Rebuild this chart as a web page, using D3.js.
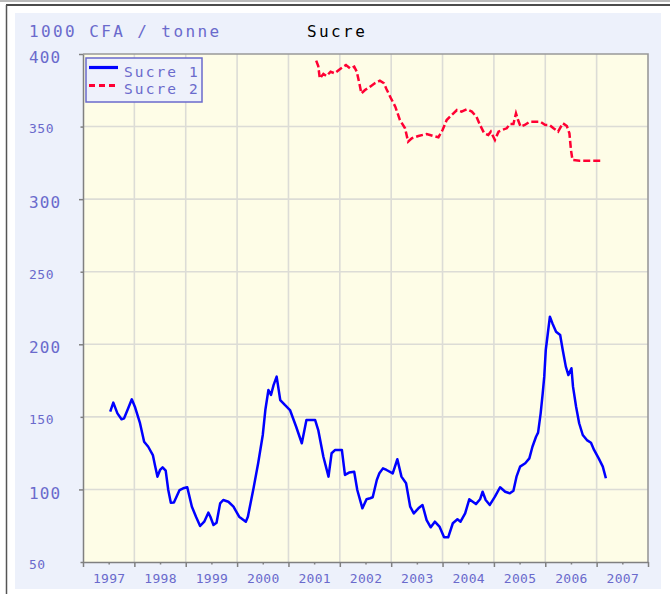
<!DOCTYPE html>
<html>
<head>
<meta charset="utf-8">
<script src="https://cdn.jsdelivr.net/npm/d3@7"></script>
<style>
  body { margin: 0; background: #fff; }
  text { font-family: "DejaVu Sans Mono", monospace; }
</style>
</head>
<body>
<svg id="chart"></svg>
<script>
const WIDTH = 670;
const HEIGHT = 594;
const LABELCOLOR = "#6a6acc";
const GRIDCOLOR = "#dcdcd6";
const AXISCOLOR = "#808080";
const PLOT = { left: 83, top: 54, right: 648, bottom: 562 };

/* axis values */
const yearTicks = d3.range(1997, 2009);
const yearLabels = d3.range(1997, 2008);
const valueTicks = [50, 100, 150, 200, 250, 300, 350, 400];
const majorValues = [100, 200, 300, 400];
const seriesNames = ["Sucre 1", "Sucre 2"];

/* Sucre 1 (decimal years) */
const sucre1Years = [
  1997.53, 1997.59, 1997.67, 1997.75, 1997.8, 1997.88, 1997.95, 1998.01, 1998.11, 1998.19,
  1998.27, 1998.36, 1998.4, 1998.45, 1998.5, 1998.55, 1998.61, 1998.66, 1998.71, 1998.77,
  1998.88, 1998.95, 1999.03, 1999.12, 1999.2, 1999.28, 1999.36, 1999.44, 1999.48, 1999.54,
  1999.6, 1999.67, 1999.73, 1999.83, 1999.93, 2000.04, 2000.17, 2000.21, 2000.32, 2000.41,
  2000.5, 2000.55, 2000.61, 2000.66, 2000.71, 2000.77, 2000.84, 2000.93, 2001.03, 2001.15,
  2001.26, 2001.35, 2001.52, 2001.58, 2001.68, 2001.78, 2001.84, 2001.91, 2002.04, 2002.1,
  2002.18, 2002.28, 2002.34, 2002.44, 2002.52, 2002.59, 2002.64, 2002.72, 2002.77, 2002.84,
  2002.91, 2003.03, 2003.12, 2003.2, 2003.29, 2003.37, 2003.44, 2003.53, 2003.61, 2003.69,
  2003.77, 2003.85, 2003.94, 2004.03, 2004.11, 2004.2, 2004.29, 2004.35, 2004.44, 2004.52,
  2004.65, 2004.73, 2004.78, 2004.84, 2004.92, 2005.02, 2005.12, 2005.22, 2005.31, 2005.38,
  2005.44, 2005.51, 2005.61, 2005.69, 2005.75, 2005.82, 2005.86, 2005.91, 2005.95, 2005.98,
  2006.01, 2006.05, 2006.09, 2006.14, 2006.21, 2006.29, 2006.34, 2006.4, 2006.45, 2006.51,
  2006.54, 2006.6, 2006.66, 2006.73, 2006.81, 2006.89, 2006.95, 2007.04, 2007.12, 2007.18
];
const sucre1Values = [
  153.6, 159.8, 152.4, 148.3, 149.0, 155.9, 162.1, 157.0, 145.6, 132.9,
  129.4, 123.7, 116.8, 108.8, 113.4, 115.2, 112.9, 99.6, 90.9, 91.0,
  99.6, 100.8, 101.5, 88.1, 81.2, 74.8, 77.8, 84.0, 81.2, 75.5,
  77.1, 90.4, 92.7, 91.5, 88.1, 81.2, 77.8, 81.2, 100.8, 118.0,
  137.5, 154.7, 168.5, 165.1, 171.9, 177.7, 161.6, 158.2, 154.7, 143.2,
  131.8, 147.8, 147.8, 140.9, 122.5, 108.8, 124.9, 127.2, 127.2, 110.0,
  111.6, 112.2, 99.6, 87.0, 93.2, 93.9, 94.6, 106.5, 111.1, 114.5,
  113.4, 111.1, 120.8, 108.8, 104.2, 88.1, 83.5, 87.0, 89.3, 78.9,
  73.9, 77.8, 74.4, 67.0, 67.0, 76.7, 79.4, 77.8, 83.5, 93.2,
  89.9, 93.2, 98.4, 92.7, 89.3, 95.0, 101.5, 98.4, 97.3, 99.1,
  108.8, 115.7, 118.0, 121.4, 129.4, 136.3, 139.1, 152.4, 166.2, 177.7,
  196.1, 207.6, 219.0, 214.4, 208.7, 206.4, 196.1, 184.6, 178.8, 183.5,
  170.8, 157.0, 145.6, 137.5, 134.0, 132.2, 127.2, 121.4, 115.7, 107.7
];

/* Sucre 2 */
const sucre2Years = [
  2001.54, 2001.58, 2001.61, 2001.68, 2001.74, 2001.82, 2001.9, 2002.0, 2002.12, 2002.2,
  2002.28, 2002.33, 2002.38, 2002.42, 2002.49, 2002.59, 2002.68, 2002.78, 2002.86, 2002.91,
  2002.98, 2003.08, 2003.17, 2003.27, 2003.33, 2003.4, 2003.53, 2003.69, 2003.82, 2003.92,
  2004.0, 2004.08, 2004.18, 2004.28, 2004.37, 2004.47, 2004.57, 2004.66, 2004.73, 2004.81,
  2004.89, 2004.94, 2005.02, 2005.09, 2005.15, 2005.25, 2005.31, 2005.38, 2005.43, 2005.47,
  2005.52, 2005.6, 2005.7, 2005.8, 2005.9, 2006.0, 2006.08, 2006.16, 2006.25, 2006.34,
  2006.42, 2006.47, 2006.5, 2006.53, 2006.67, 2007.07
];
const sucre2Values = [
  395.4, 391.7, 383.2, 386.2, 384.8, 387.8, 386.7, 389.5, 392.4, 390.1,
  391.3, 387.8, 379.8, 372.9, 375.2, 377.5, 379.8, 381.6, 379.8, 375.7,
  370.6, 363.7, 354.5, 348.8, 339.6, 341.9, 343.5, 344.9, 343.5, 342.6,
  347.6, 354.5, 358.0, 361.4, 360.3, 361.9, 360.3, 356.8, 351.1, 345.4,
  344.2, 346.5, 340.7, 346.5, 347.6, 348.8, 351.8, 351.8, 359.1, 354.5,
  349.9, 351.1, 353.4, 353.4, 353.4, 351.1, 351.1, 348.8, 346.5, 352.3,
  350.4, 345.4, 333.9, 327.0, 326.5, 326.5
];

const svg = d3.select("#chart").attr("width", WIDTH).attr("height", HEIGHT);

/* page frame */
svg.append("line").attr("x1", 0).attr("x2", WIDTH).attr("y1", 1).attr("y2", 1)
  .attr("stroke", "#777").attr("stroke-width", 1.2);
svg.append("line").attr("x1", 6).attr("x2", WIDTH).attr("y1", 5).attr("y2", 5)
  .attr("stroke", "#111").attr("stroke-width", 1.5);
svg.append("line").attr("x1", 6.5).attr("x2", 6.5).attr("y1", 5).attr("y2", HEIGHT)
  .attr("stroke", "#555").attr("stroke-width", 1.5);
svg.append("rect").attr("x", 15).attr("y", 13).attr("width", 646).attr("height", 576)
  .attr("fill", "#edf1fb");

/* scales */
const xScale = d3.scaleLinear().domain([1997, 2008]).range([PLOT.left, PLOT.right]);
const yScale = d3.scaleLinear().domain([50, 400]).range([PLOT.bottom, PLOT.top]);

/* plot background */
svg.append("rect")
  .attr("x", PLOT.left).attr("y", PLOT.top)
  .attr("width", PLOT.right - PLOT.left).attr("height", PLOT.bottom - PLOT.top)
  .attr("fill", "#fefde7");

/* grid */
const grid = svg.append("g").attr("stroke", GRIDCOLOR).attr("stroke-width", 1.6);
grid.selectAll(".vgrid")
  .data(yearTicks.slice(1, -1))
  .enter().append("line")
  .attr("x1", (d) => xScale(d)).attr("x2", (d) => xScale(d))
  .attr("y1", PLOT.top).attr("y2", PLOT.bottom);
grid.selectAll(".hgrid")
  .data(valueTicks.slice(1, -1))
  .enter().append("line")
  .attr("x1", PLOT.left).attr("x2", PLOT.right)
  .attr("y1", (d) => yScale(d)).attr("y2", (d) => yScale(d));

/* top and right border of the plot */
svg.append("path")
  .attr("d", `M${PLOT.left},${PLOT.top}H${PLOT.right}V${PLOT.bottom}`)
  .attr("fill", "none").attr("stroke", "#999").attr("stroke-width", 1.6);

/* x axis: year ticks, then mid-year ticks carrying the labels */
const yearAxis = svg.append("g")
  .attr("transform", `translate(0,${PLOT.bottom})`)
  .call(d3.axisBottom(xScale).tickValues(yearTicks).tickSize(5).tickSizeOuter(0).tickFormat(""));
const labelAxis = svg.append("g")
  .attr("transform", `translate(0,${PLOT.bottom})`)
  .call(d3.axisBottom(xScale).tickValues(yearLabels.map((y) => y + 0.5)).tickSize(2.5)
    .tickSizeOuter(0).tickFormat((d) => Math.floor(d)));
labelAxis.select(".domain").remove();
labelAxis.selectAll("text")
  .attr("y", 21.3).attr("dy", 0)
  .attr("fill", LABELCOLOR).attr("font-size", 13).attr("letter-spacing", 0.3);

/* y axis */
const yAxis = svg.append("g")
  .attr("transform", `translate(${PLOT.left},0)`)
  .call(d3.axisLeft(yScale).tickValues(valueTicks).tickSize(4).tickSizeOuter(0));
yAxis.selectAll(".tick line").attr("x2", (d) => (majorValues.includes(d) ? -4 : -2.5));
yAxis.selectAll("text")
  .attr("x", 29 - PLOT.left).attr("dy", 0)
  .attr("y", (d) => (majorValues.includes(d) ? 8.7 : 6.3))
  .attr("text-anchor", "start")
  .attr("fill", LABELCOLOR)
  .attr("font-size", (d) => (majorValues.includes(d) ? 16 : 13))
  .attr("letter-spacing", (d) => (majorValues.includes(d) ? 1.1 : 0.5));

[yearAxis, labelAxis, yAxis].forEach((a) => {
  a.selectAll("line, path").attr("stroke", AXISCOLOR).attr("stroke-width", 1.5);
});

/* series */
const line = d3.line().x((d) => xScale(d[0])).y((d) => yScale(d[1]));

svg.append("path")
  .datum(d3.zip(sucre2Years, sucre2Values))
  .attr("d", line)
  .attr("fill", "none").attr("stroke", "#ff0033").attr("stroke-width", 2.5)
  .attr("stroke-dasharray", "7,3");

svg.append("path")
  .datum(d3.zip(sucre1Years, sucre1Values))
  .attr("d", line)
  .attr("fill", "none").attr("stroke", "#0000ff").attr("stroke-width", 2.5)
  .attr("stroke-linejoin", "round");

/* legend */
const legend = svg.append("g").attr("transform", "translate(86,58)");
legend.append("rect")
  .attr("width", 116).attr("height", 44)
  .attr("fill", "#eef1fb").attr("stroke", LABELCOLOR).attr("stroke-width", 1.5);
legend.selectAll(".sample")
  .data(seriesNames)
  .enter().append("line")
  .attr("x1", 3).attr("x2", 32)
  .attr("y1", (d, i) => 9.5 + i * 18).attr("y2", (d, i) => 9.5 + i * 18)
  .attr("stroke", (d, i) => (i === 0 ? "#0000ff" : "#ff0033"))
  .attr("stroke-width", 3.2)
  .attr("stroke-dasharray", (d, i) => (i === 0 ? null : "6,4"));
legend.selectAll(".name")
  .data(seriesNames)
  .enter().append("text")
  .attr("x", 38).attr("y", (d, i) => 18.5 + i * 17)
  .attr("fill", LABELCOLOR).attr("font-size", 14.5).attr("letter-spacing", 2.1)
  .text((d) => d);

/* titles */
svg.append("text")
  .attr("x", 29).attr("y", 37)
  .attr("fill", LABELCOLOR).attr("font-size", 16).attr("letter-spacing", 2.4)
  .text("1000 CFA / tonne");
svg.append("text")
  .attr("x", 307).attr("y", 37)
  .attr("fill", "#000").attr("font-size", 16).attr("letter-spacing", 2.4)
  .text("Sucre");
</script>
</body>
</html>
